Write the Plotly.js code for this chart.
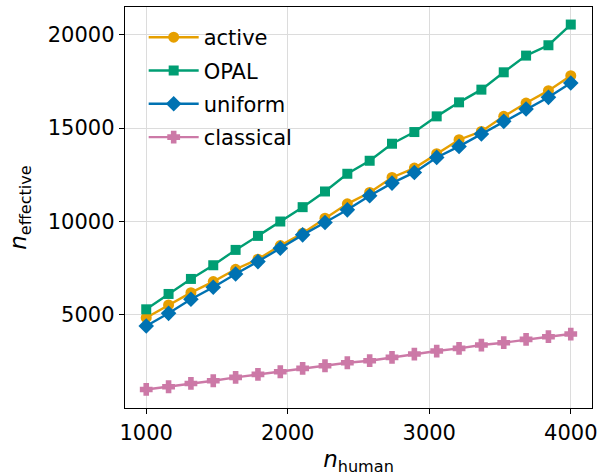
<!DOCTYPE html>
<html>
<head>
<meta charset="utf-8">
<script src="https://cdn.plot.ly/plotly-3.0.1.min.js"></script>
<style>html,body{margin:0;padding:0;background:#fff;}#chart{width:599px;height:476px;}</style>
</head>
<body>
<div id="chart"></div>
<script>
const nHuman = [1000, 1157.9, 1315.8, 1473.7, 1631.6, 1789.5, 1947.4, 2105.3, 2263.2, 2421.1,
                2578.9, 2736.8, 2894.7, 3052.6, 3210.5, 3368.4, 3526.3, 3684.2, 3842.1, 4000];
const active = [4856, 5536, 6196, 6786, 7446, 7982, 8714, 9375, 10179, 10946,
                11554, 12357, 12857, 13625, 14375, 14821, 15625, 16339, 17000, 17804];
const opal = [5304, 6125, 6929, 7661, 8482, 9232, 10000, 10768, 11607, 12554,
              13250, 14161, 14786, 15625, 16375, 17054, 17982, 18875, 19429, 20536];
const uniform = [4411, 5089, 5839, 6482, 7196, 7857, 8571, 9286, 9946, 10625,
                 11375, 12054, 12625, 13429, 14018, 14679, 15357, 16018, 16643, 17411];
const classical = [1018, 1161, 1339, 1482, 1661, 1821, 1964, 2143, 2286, 2446,
                   2554, 2732, 2911, 3071, 3214, 3393, 3518, 3696, 3839, 3982];
const seriesNames = ['active', 'OPAL', 'uniform', 'classical'];
const xTicks = [1000, 2000, 3000, 4000];
const yTicks = [5000, 10000, 15000, 20000];

const colors = ['#E69F00', '#009E73', '#0072B2', '#CC79A7'];
const symbols = ['circle', 'square', 'diamond', 'cross'];
const sizes = [11, 10, 12, 9];
const edge = [0, 0, 0, 2];
const data = [active, opal, uniform, classical].map((ys, i) => ({
  x: nHuman, y: ys, name: seriesNames[i], type: 'scatter', mode: 'lines+markers',
  legendgroup: 'g' + i,
  line: {color: colors[i], width: 2.4},
  marker: {color: colors[i], symbol: symbols[i], size: sizes[i], line: {width: edge[i], color: colors[i]}}
}));

const fam = 'DejaVu Sans';
const layout = {
  width: 599, height: 476,
  margin: {l: 125, r: 7, t: 7, b: 68},
  paper_bgcolor: '#fff', plot_bgcolor: '#fff',
  font: {family: fam, size: 21, color: '#000'},
  showlegend: true,
  legend: {x: 0.04, y: 0.975, xanchor: 'left', yanchor: 'top', bgcolor: 'rgba(255,255,255,0)',
           font: {family: fam, size: 21, color: '#000'}, tracegroupgap: 3, itemwidth: 50},
  xaxis: {
    range: [850, 4150], tickvals: xTicks, ticktext: xTicks.map(String),
    showgrid: true, gridcolor: '#dcdcdc', gridwidth: 1,
    showline: true, linecolor: '#000', linewidth: 1.3, mirror: true,
    ticks: 'outside', ticklen: 5, tickcolor: '#000', zeroline: false,
    tickfont: {family: fam, size: 21, color: '#000'},
    title: {text: '<i>n</i><sub>human</sub>', font: {family: fam, size: 23, color: '#000'}, standoff: 7}
  },
  yaxis: {
    range: [25, 21475], tickvals: yTicks, ticktext: yTicks.map(String),
    showgrid: true, gridcolor: '#dcdcdc', gridwidth: 1,
    showline: true, linecolor: '#000', linewidth: 1.3, mirror: true,
    ticks: 'outside', ticklen: 5, tickcolor: '#000', zeroline: false,
    tickfont: {family: fam, size: 21, color: '#000'},
    title: {text: '<i>n</i><sub>effective</sub>', font: {family: fam, size: 23, color: '#000'}, standoff: 14}
  }
};
Plotly.newPlot('chart', data, layout, {displayModeBar: false, staticPlot: true});
</script>
</body>
</html>
